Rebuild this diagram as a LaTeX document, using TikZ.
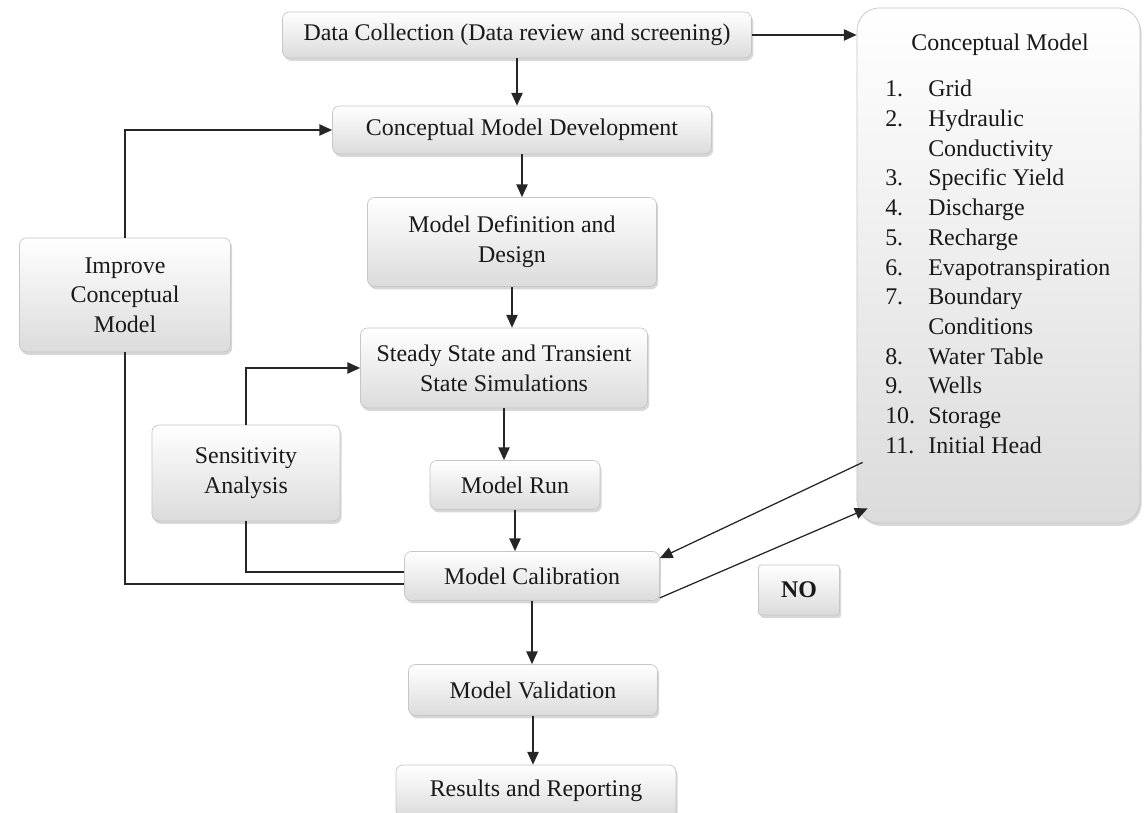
\documentclass[tikz,border=0pt]{standalone}
\usepackage{fontspec}
\setmainfont{Liberation Serif}
\usepackage{tikz}
\usetikzlibrary{arrows.meta,shadows,calc}

\begin{document}
\begin{tikzpicture}[
    x=0.025cm, y=0.025cm,
    box/.style={draw=gray!45, rounded corners=5pt, top color=white, bottom color=gray!28,
                drop shadow={shadow xshift=1.2pt, shadow yshift=-2pt, opacity=0.45, fill=gray!70},
                align=center, inner sep=2pt, text=black!90,
                font=\fontsize{17}{21.1}\selectfont, line width=0.5pt},
    arrow/.style={-{Triangle[length=9pt,width=8pt]}, line width=0.9pt, black!85},
    link/.style={line width=0.9pt, black!85},
    itemtext/.style={font=\fontsize{17}{21.1}\selectfont, text=black!90, inner sep=0pt},
]
\useasboundingbox (0,0) rectangle (1144,813);

% ── Main column ──
\node[box, minimum width=11.725cm, minimum height=1.15cm] (dc) at (517,778) {Data Collection (Data review and screening)};
\node[box, minimum width=9.475cm, minimum height=1.2cm] (cmd) at (522,683) {Conceptual Model Development};
\node[box, minimum width=7.225cm, minimum height=2.225cm] (mdd) at (512,571) {Model Definition and\\Design};
\node[box, minimum width=7.175cm, minimum height=2.0cm] (ssts) at (504,445) {Steady State and Transient\\State Simulations};
\node[box, minimum width=4.25cm, minimum height=1.225cm] (run) at (515,328) {Model Run};
\node[box, minimum width=6.375cm, minimum height=1.225cm] (calib) at (532,237) {Model Calibration};
\node[box, minimum width=6.225cm, minimum height=1.275cm] (valid) at (533,123) {Model Validation};
\node[box, minimum width=7.0cm, minimum height=1.3cm] (results) at (536,22) {Results and Reporting};

% ── Feedback boxes ──
\node[box, minimum width=5.275cm, minimum height=2.85cm] (impr) at (125,518) {Improve\\Conceptual\\Model};
\node[box, minimum width=4.7cm, minimum height=2.4cm] (sens) at (246,340) {Sensitivity\\Analysis};
\node[box, rounded corners=2pt, minimum width=2.025cm, minimum height=1.25cm,
      font=\fontsize{17}{21.1}\selectfont\bfseries] (no) at (799,223) {NO};

% ── Conceptual model panel ──
\node[box, rounded corners=16pt, minimum width=7.075cm, minimum height=12.875cm] (cmodel) at (998.5,547.5) {};
\node[itemtext] (cmtitle) at (1000,768) {Conceptual Model};
\node[itemtext, anchor=base west] (cmlist) at (885,716) {%
  \begin{tabular}[t]{@{}p{1.075cm}@{}l@{}}
  1.  & Grid\\
  2.  & Hydraulic\\
      & Conductivity\\
  3.  & Specific Yield\\
  4.  & Discharge\\
  5.  & Recharge\\
  6.  & Evapotranspiration\\
  7.  & Boundary\\
      & Conditions\\
  8.  & Water Table\\
  9.  & Wells\\
  10. & Storage\\
  11. & Initial Head
  \end{tabular}};

% ── Arrows ──
\draw[arrow] (dc.east) -- (dc.east -| cmodel.west);
\draw[arrow] (dc.south) -- (dc.south |- cmd.north);
\draw[arrow] (cmd.south) -- (cmd.south |- mdd.north);
\draw[arrow] (mdd.south) -- (mdd.south |- ssts.north);
\draw[arrow] (ssts.south) -- (ssts.south |- run.north);
\draw[arrow] (run.south) -- (run.south |- calib.north);
\draw[arrow] (calib.south) -- (calib.south |- valid.north);
\draw[arrow] (valid.south) -- (valid.south |- results.north);
\draw[arrow] (impr.north) |- (cmd.west);
\draw[arrow] (sens.north) |- (ssts.west);
\draw[link] (sens.south) |- ($(calib.west)+(0,4)$);
\draw[link] (impr.south) |- ($(calib.west)+(0,-8)$);
\draw[arrow] ($(cmodel.south west)+(6,61)$) -- ($(calib.north east)+(0,-7)$);
\draw[arrow] ($(calib.south east)+(0,3)$) -- ($(cmodel.south west)+(11,15)$);

\end{tikzpicture}
\end{document}
